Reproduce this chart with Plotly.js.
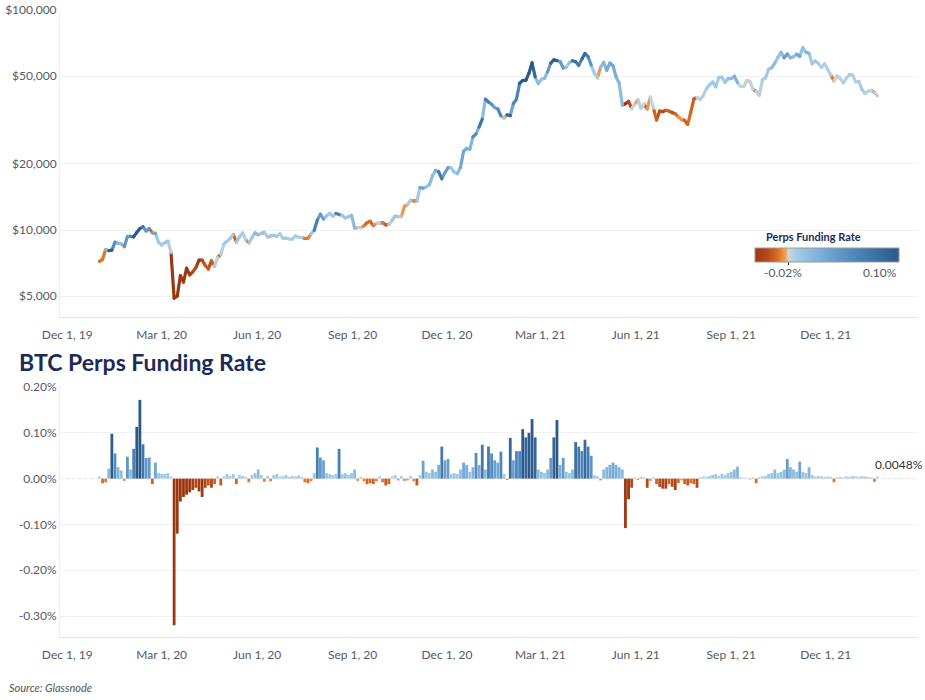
<!DOCTYPE html>
<html><head><meta charset="utf-8">
<script src="https://cdn.plot.ly/plotly-3.0.1.min.js"></script>
<style>
html,body{margin:0;padding:0;background:#fff;}
#chart{width:925px;height:700px;}
path.js-line{stroke-linecap:round;stroke-linejoin:round;}
</style></head><body><div id="chart"></div>
<script>
// ---------- DATA ----------
const startDate = '2020-01-01';
const stepDays = 3;

// BTC price (USD), one value every 3 days from Jan 1, 2020 to Jan 20, 2022
const btcPrice = [
  7200, 7350, 8150, 8050, 8100, 8800, 8700, 8650, 8400, 9350, 9350,
  9300, 9750, 10150, 10350, 9900, 10150, 9700, 9650, 8800,
  8550, 8750, 8900, 7900, 4900, 5000, 6200, 5800, 6700, 6250, 6450,
  6750, 7300, 7300, 6900, 6650, 7250, 6850, 7500, 7750, 8650,
  8900, 9150, 9550, 8800, 9300, 9700, 9050, 8750, 9200, 9700,
  9500, 9650, 9750, 9300, 9400, 9450, 9350, 9630, 9150, 9180,
  9100, 9080, 9400, 9250, 9250, 9150, 9170, 9600, 9950, 11100,
  11800, 11200, 11600, 11900, 11550, 11900, 11750, 11650, 11350, 11500, 11650,
  10200, 10250, 10250, 10450, 10800, 10950, 10450, 10750, 10750, 10800,
  10550, 10600, 11050, 11550, 11500, 11500, 12800, 13050, 13650, 13550,
  13550, 15600, 15500, 15700, 16050, 17650, 18650, 18400, 17100, 18200,
  19200, 19150, 18300, 18050, 19250, 22800, 23500, 23250, 26500, 27350,
  29400, 31900, 39300, 38200, 37300, 36000, 35500, 33000, 32300, 33400, 33100,
  37600, 39300, 46400, 47900, 47900, 51600, 57500, 49700, 46300,
  48400, 48900, 52400, 57300, 59300, 58900, 58300, 54500, 55000, 57700,
  58800, 58200, 56000, 59800, 63500, 61300, 56200, 51700, 49100, 54800,
  57800, 53200, 57400, 55800, 49700, 46400, 37000, 37500, 38400, 35700, 37300,
  39100, 35800, 37300, 35500, 40200, 35800, 31600, 34700, 34500, 35000,
  34700, 34200, 33800, 32700, 31800, 31500, 30200, 34300, 39400, 40000,
  39200, 40900, 43800, 45600, 47100, 44700, 49300, 49500, 46900, 48800,
  48800, 50000, 46800, 44900, 44900, 47800, 47300, 43600, 42700, 41000,
  48100, 49100, 53800, 54700, 57400, 60900, 64300, 60700, 63100, 60600, 61300,
  63000, 61500, 67500, 64200, 63500, 56900, 58600, 57100, 54800, 57000,
  53600, 50600, 47600, 50100, 48900, 46700, 49000, 50800, 50600, 47100,
  47300, 43500, 41700, 42700, 43100, 42250, 40700
];

// BTC perps funding rate (%), same dates
const fundingRate = [
  0.005, -0.01, -0.008, 0.022, 0.098, 0.055, 0.025, 0.018, -0.005, 0.048, 0.02,
  0.065, 0.113, 0.172, 0.075, 0.045, 0.046, -0.012, 0.035, 0.012,
  0.01, 0.01, 0.012, 0.005, -0.32, -0.12, -0.05, -0.04, -0.035, -0.03, -0.025,
  -0.02, -0.028, -0.04, -0.02, -0.015, -0.02, -0.012, 0.005, -0.015, 0.005,
  0.01, 0.006, 0.01, -0.012, 0.008, 0.006, 0.004, -0.008, 0.008, 0.012,
  0.02, 0.008, -0.007, 0.006, -0.006, 0.008, 0.01, 0.005, 0.006, 0.008,
  0.004, 0.006, 0.005, 0.007, 0.004, -0.008, -0.01, -0.006, 0.012, 0.068,
  0.046, 0.04, 0.012, 0.01, 0.008, 0.01, 0.065, 0.01, 0.012, 0.008, 0.012,
  0.02, -0.005, 0.004, -0.006, -0.012, -0.01, -0.012, -0.006, 0.005, -0.008,
  -0.015, -0.012, 0.005, 0.008, -0.004, 0.006, -0.005, -0.004, 0.006, -0.006,
  -0.015, 0.008, 0.039, 0.015, 0.012, 0.02, 0.015, 0.03, 0.07, 0.04,
  0.043, 0.01, 0.012, 0.01, 0.02, 0.035, 0.03, 0.015, 0.025, 0.056,
  0.03, 0.074, 0.02, 0.07, 0.055, 0.04, 0.035, 0.059, 0.01, -0.003, 0.089,
  0.04, 0.06, 0.06, 0.108, 0.09, 0.10, 0.13, 0.09, 0.02,
  0.015, 0.012, 0.02, 0.045, 0.09, 0.128, 0.03, 0.045, 0.015, 0.012,
  0.02, 0.08, 0.07, 0.06, 0.085, 0.07, 0.05, 0.008, 0.006, -0.004,
  0.02, 0.025, 0.03, 0.035, 0.03, 0.025, 0.02, -0.108, -0.045, -0.02, 0.003,
  -0.003, 0.004, 0.003, -0.02, -0.005, 0.003, -0.012, -0.018, -0.022, -0.022,
  -0.012, -0.018, -0.025, -0.01, -0.004, -0.012, -0.015, -0.01, -0.012, -0.02,
  0.003, 0.005, 0.004, 0.006, 0.008, 0.01, 0.006, 0.01, 0.008, 0.012,
  0.015, 0.02, 0.026, 0.003, 0.002, 0.002, -0.002, 0.003, -0.01, 0.004,
  0.005, 0.006, 0.01, 0.012, 0.02, 0.012, 0.015, 0.02, 0.043, 0.025, 0.02,
  0.015, 0.037, 0.015, 0.012, 0.025, 0.008, 0.005, 0.006, 0.005, 0.004,
  0.005, 0.004, -0.008, 0.003, 0.004, 0.003, 0.005, 0.004, 0.006, 0.005,
  0.004, 0.006, 0.005, 0.004, 0.003, -0.007, 0.0048
];

const priceTicks = [5000, 10000, 20000, 50000, 100000];
const priceTickText = ['$5,000', '$10,000', '$20,000', '$50,000', '$100,000'];
const rateTicks = [-0.3, -0.2, -0.1, 0, 0.1, 0.2];
const rateTickText = ['-0.30%', '-0.20%', '-0.10%', '0.00%', '0.10%', '0.20%'];
const dateTicks = ['2019-12-01', '2020-03-01', '2020-06-01', '2020-09-01', '2020-12-01',
                   '2021-03-01', '2021-06-01', '2021-09-01', '2021-12-01'];
const dateTickText = ['Dec 1, 19', 'Mar 1, 20', 'Jun 1, 20', 'Sep 1, 20', 'Dec 1, 20',
                      'Mar 1, 21', 'Jun 1, 21', 'Sep 1, 21', 'Dec 1, 21'];
const legendTitle = 'Perps Funding Rate';
const legendLow = '-0.02%';
const legendHigh = '0.10%';
const chartTitle = 'BTC Perps Funding Rate';
const sourceText = 'Source: Glassnode';

// ---------- STYLE ----------
const W = 925, H = 700;
const M = {l: 60, r: 7, t: 10, b: 63};
const PW = W - M.l - M.r, PH = H - M.t - M.b;
const px2x = p => (p - M.l) / PW;
const py2y = p => (H - M.b - p) / PH;

const rateMin = -0.03, rateMax = 0.10;
const fundingScale = [
  [0, '#9b3812'],
  [0.09, '#bb4a19'],
  [0.16, '#dc6f25'],
  [0.215, '#f4a559'],
  [0.232, '#d2d6d4'],
  [0.29, '#a2cbe6'],
  [0.45, '#7cb0d9'],
  [0.7, '#4d85ba'],
  [1, '#2b5a8a']
];
const FONT = 'Lato, "Open Sans", sans-serif';
const tickCol = '#555a64';
const navy = '#1c2b55';

function hexRgb(h){return [parseInt(h.slice(1,3),16),parseInt(h.slice(3,5),16),parseInt(h.slice(5,7),16)];}
function scaleColor(f){
  f = Math.max(0, Math.min(1, f));
  for (let i = 1; i < fundingScale.length; i++) {
    const f1 = fundingScale[i-1][0], c1 = fundingScale[i-1][1];
    const f2 = fundingScale[i][0], c2 = fundingScale[i][1];
    if (f <= f2) {
      const t = (f - f1) / ((f2 - f1) || 1);
      const a = hexRgb(c1), b = hexRgb(c2);
      return 'rgb(' + a.map((v, j) => Math.round(v + (b[j] - v) * t)).join(',') + ')';
    }
  }
  return fundingScale[fundingScale.length - 1][1];
}

const dates = btcPrice.map((_, i) => {
  const d = new Date(Date.parse(startDate + 'T00:00:00Z') + i * stepDays * 86400000);
  return d.toISOString().slice(0, 10);
});

// price line coloured by funding rate: segments grouped by colour level
const LEVELS = 60;
const groups = {};
for (let i = 0; i < btcPrice.length - 1; i++) {
  const v = Math.max(rateMin, Math.min(rateMax, fundingRate[i + 1]));
  const q = Math.round((v - rateMin) / (rateMax - rateMin) * LEVELS);
  if (!groups[q]) groups[q] = {x: [], y: []};
  groups[q].x.push(dates[i], dates[i + 1], null);
  groups[q].y.push(btcPrice[i], btcPrice[i + 1], null);
}
const traces = Object.keys(groups).map(q => ({
  type: 'scatter', mode: 'lines', x: groups[q].x, y: groups[q].y,
  xaxis: 'x', yaxis: 'y', connectgaps: false,
  line: {color: scaleColor(q / LEVELS), width: 3.2},
  hoverinfo: 'skip', showlegend: false
}));

traces.push({
  type: 'bar', x: dates, y: fundingRate, xaxis: 'x2', yaxis: 'y2',
  width: 2.7 * 86400000,
  marker: {
    color: fundingRate, colorscale: fundingScale, cmin: rateMin, cmax: rateMax,
    line: {width: 0},
    showscale: true,
    colorbar: {
      orientation: 'h', x: px2x(755), xanchor: 'left', y: py2y(248), yanchor: 'top',
      len: 144, lenmode: 'pixels', thickness: 14, thicknessmode: 'pixels',
      xpad: 0, ypad: 0, outlinecolor: '#9a9a9a', outlinewidth: 1,
      tickvals: [0], ticks: 'outside', ticklen: 3, tickcolor: '#333',
      showticklabels: false, title: {text: ''}
    }
  },
  hoverinfo: 'skip', showlegend: false
});

const dateRange = ['2019-11-24', '2022-02-28'];
const xCommon = {
  type: 'date', range: dateRange, tickvals: dateTicks, ticktext: dateTickText,
  showgrid: false, zeroline: false, showline: true, linecolor: '#e3e3e3', linewidth: 1,
  ticks: '', ticklabelstandoff: 7, tickfont: {family: FONT, size: 12, color: tickCol}, fixedrange: true
};
const last = fundingRate.length - 1;

const layout = {
  width: W, height: H, margin: M, paper_bgcolor: '#fff', plot_bgcolor: '#fff',
  showlegend: false, hovermode: false,
  font: {family: FONT},
  xaxis: Object.assign({}, xCommon, {anchor: 'y', domain: [0, 1]}),
  xaxis2: Object.assign({}, xCommon, {anchor: 'y2', domain: [0, 1]}),
  yaxis: {
    anchor: 'x', domain: [py2y(317), 1], type: 'log',
    range: [Math.log10(4023), 5], tickvals: priceTicks, ticktext: priceTickText,
    showgrid: true, gridcolor: '#f1f1f1', zeroline: false, showline: true, linecolor: '#eeeeee',
    ticks: '', tickfont: {family: FONT, size: 12, color: tickCol}, fixedrange: true
  },
  yaxis2: {
    anchor: 'x2', domain: [0, py2y(387)],
    range: [-0.3457, 0.2], tickvals: rateTicks, ticktext: rateTickText,
    showgrid: true, gridcolor: '#f1f1f1', zeroline: false, showline: true, linecolor: '#eeeeee',
    ticks: '', tickfont: {family: FONT, size: 12, color: tickCol}, fixedrange: true
  },
  shapes: [{
    type: 'line', xref: 'x2 domain', yref: 'y2', x0: 0, x1: 1, y0: 0, y1: 0,
    line: {color: '#b3b3b3', width: 1, dash: 'dot'}, layer: 'below'
  }],
  annotations: [
    {text: '<b>' + chartTitle + '</b>', xref: 'paper', yref: 'paper', x: px2x(17), y: py2y(362),
     xanchor: 'left', yanchor: 'middle', showarrow: false, font: {family: FONT, size: 23, color: navy}},
    {text: '<i>' + sourceText + '</i>', xref: 'paper', yref: 'paper', x: px2x(7), y: py2y(687),
     xanchor: 'left', yanchor: 'middle', showarrow: false, font: {family: FONT, size: 11, color: '#555'}},
    {text: '<b>' + legendTitle + '</b>', xref: 'paper', yref: 'paper', x: px2x(813), y: py2y(236),
     xanchor: 'center', yanchor: 'middle', showarrow: false, font: {family: FONT, size: 11, color: navy}},
    {text: legendLow, xref: 'paper', yref: 'paper', x: px2x(783), y: py2y(272),
     xanchor: 'center', yanchor: 'middle', showarrow: false, font: {family: FONT, size: 12, color: tickCol}},
    {text: legendHigh, xref: 'paper', yref: 'paper', x: px2x(899), y: py2y(272),
     xanchor: 'right', yanchor: 'middle', showarrow: false, font: {family: FONT, size: 12, color: tickCol}},
    {text: fundingRate[last].toFixed(4) + '%', xref: 'x2', yref: 'y2', x: dates[last], y: 0,
     xanchor: 'left', yanchor: 'bottom', xshift: -5, yshift: 5, showarrow: false,
     font: {family: FONT, size: 12, color: '#333'}}
  ]
};

Plotly.newPlot('chart', traces, layout, {displayModeBar: false, staticPlot: true});
</script>
</body></html>
